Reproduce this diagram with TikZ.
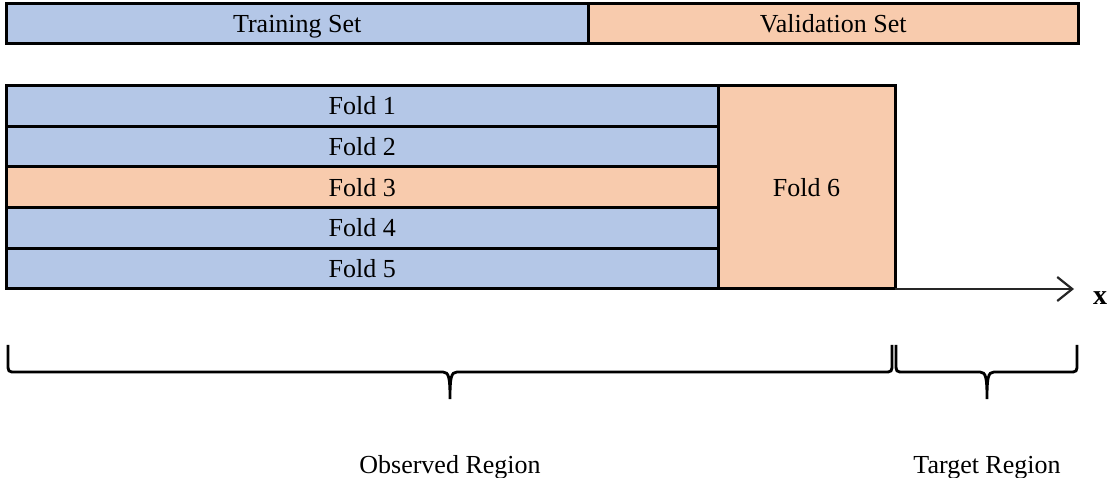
\documentclass[tikz,border=0pt]{standalone}
\usepackage{fontspec}
\setmainfont{Liberation Serif}
\usetikzlibrary{arrows.meta, positioning}
\definecolor{cblue}{HTML}{B4C7E7}
\definecolor{corange}{HTML}{F8CBAD}
\definecolor{cline}{HTML}{262626}
\tikzset{
  every picture/.style={font=\fontsize{26}{31}\selectfont},
  box/.style={draw=black, fill=#1, line width=3pt, outer sep=0pt, inner sep=0pt, align=center, text height=22pt, text depth=4pt},
  box/.default=cblue,
  axis/.style={-{Straight Barb[length=15pt, width=24pt, line width=2.2pt]}, draw=cline, line width=2pt},
  brace/.style={draw=black, line width=2.8pt},
  label/.style={font=\fontsize{26}{31}\selectfont, text height=22pt, text depth=4pt},
}
\begin{document}
\begin{tikzpicture}[x=1pt, y=-1pt]
  \useasboundingbox (0,0) rectangle (1112,478);
  % split of the data
  \node[box=cblue, minimum width=581.5pt, minimum height=40pt] (train) at (297.25,23.5) {Training Set};
  \node[box=corange, minimum width=490.5pt, minimum height=40pt] (valid) at (833.25,23.5) {Validation Set};
  % folds
  \foreach \i/\c in {1/cblue, 2/cblue, 3/corange, 4/cblue, 5/cblue} {
    \node[box=\c, minimum width=711.5pt, minimum height=40.7pt] (fold\i) at (362.25, 85.5+40.7*\i-20.35) {Fold \i};
  }
  \node[box=corange, minimum width=177pt, minimum height=203.5pt] (fold6) at (806.5,187.25) {Fold 6};
  % axis
  \coordinate (xend) at (1074,289);
  \draw[axis] (fold6.south east) -- (xend);
  \node[label, font=\fontsize{28}{33}\selectfont\bfseries] (xlab) at (1100,296) {x};
  % braces
  \foreach \l/\r/\m in {8/892/450, 896/1077/987} {
    \draw[brace] (\l,345) -- (\l,363) .. controls (\l,372) .. (\l+8,372) -- (\m-7,372)
      .. controls (\m-1,372) and (\m,378) .. (\m,399)
      .. controls (\m,378) and (\m+1,372) .. (\m+7,372) -- (\r-8,372)
      .. controls (\r,372) .. (\r,363) -- (\r,345);
  }
  \node[label] (obs) at (450,464) {Observed Region};
  \node[label] (tgt) at (987,464) {Target Region};
\end{tikzpicture}
\end{document}
